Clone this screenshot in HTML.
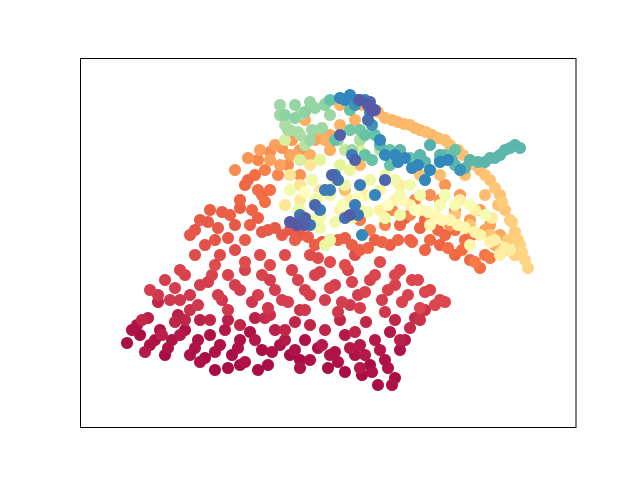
<!DOCTYPE html>
<html><head><meta charset="utf-8"><style>
html,body{margin:0;padding:0;background:#fff;}
svg{display:block;}
</style></head><body>
<svg id="chart" width="640" height="480" xmlns="http://www.w3.org/2000/svg">
<rect x="0" y="0" width="640" height="480" fill="#fff"/>
<g id="points"></g>
<rect x="80.5" y="58.5" width="495.5" height="369" fill="none" stroke="#000" stroke-width="1"/>
</svg>
<script>
// data: x (feature 1), y (feature 2), c (colour value 0..1)
const xs = [127,137,140,150,160,165,172,185,195,205,210,220,232,240,250,262,268,280,290,300,305,318,328,335,345,355,362,370,378,385,395,400,405,390,375,360,345,178,148,158,200,228,255,285,310,340,366,395,415,425,240,215,
150,165,180,190,200,212,222,235,245,258,270,282,292,305,315,325,335,348,358,370,382,395,408,418,430,220,235,260,285,310,330,355,380,400,170,190,300,270,350,385,440,
190,200,210,205,218,230,240,228,250,262,275,290,300,315,330,345,360,375,390,410,425,440,455,470,480,400,420,445,465,485,245,255,262,252,270,
258,270,282,292,265,278,288,300,315,330,300,440,455,470,485,430,450,495,505,500,480,460,445,490,430,415,360,385,410,392,370,
340,355,370,385,398,410,420,432,445,458,470,480,490,500,505,510,515,520,525,528,515,508,498,485,465,450,355,340,320,305,290,330,270,345,360,420,440,
300,312,320,335,350,365,380,395,410,420,435,450,465,480,495,510,400,380,360,340,320,300,285,290,310,430,470,500,
300,310,320,330,315,330,345,370,385,395,410,420,440,455,470,485,340,360,300,285,320,350,400,445,325,
280,285,300,312,280,295,310,325,300,290,305,330,345,350,360,380,395,
330,340,350,360,375,380,400,420,440,455,470,485,495,505,515,520,430,445,390,365,335,
345,355,365,370,372,380,395,405,418,430,448,460,352,360,330,320,310,300,335,375,355,
360,368,372,355,340,290,297,305,350,385,332];
const ys = [137,155,145,135,150,125,140,150,132,122,145,135,125,140,148,130,115,135,125,120,140,132,112,128,108,125,105,115,95,120,102,130,140,148,140,135,145,165,162,178,160,160,162,150,155,160,158,160,162,170,115,110,
190,200,210,185,195,205,180,195,210,185,200,180,210,190,205,180,195,210,185,200,180,195,185,200,190,225,230,225,225,225,218,225,218,210,180,170,170,165,175,168,180,
245,260,270,235,252,265,280,242,255,248,252,250,245,235,240,242,230,240,235,240,230,235,225,220,212,255,252,245,240,225,295,305,285,270,290,
320,328,332,340,310,305,315,330,340,345,305,280,270,260,250,265,255,235,230,245,270,285,295,255,285,280,260,255,265,270,250,
375,380,370,362,358,355,350,345,340,330,320,310,300,285,270,260,248,235,220,212,225,240,275,285,305,320,360,355,350,360,325,330,320,290,315,305,305,
295,300,290,300,280,285,290,280,275,270,265,260,252,245,240,230,295,270,270,270,265,280,275,305,315,255,235,225,
270,260,252,240,280,285,295,300,305,300,295,285,275,275,275,265,315,330,320,340,320,310,285,285,235,
375,355,345,350,365,375,378,375,365,350,335,365,330,350,340,330,320,
380,382,370,350,345,335,330,325,320,315,320,318,322,330,335,332,335,325,315,325,340,
380,375,380,368,355,340,325,322,315,310,320,310,325,295,290,270,255,265,305,285,275,
380,375,370,320,345,258,255,262,265,300,305];
const cs = [0.02,0.03,0.02,0.03,0.03,0.02,0.03,0.03,0.03,0.02,0.03,0.03,0.02,0.03,0.03,0.02,0.02,0.03,0.02,0.02,0.03,0.03,0.02,0.03,0.02,0.03,0.02,0.02,0.02,0.03,0.02,0.03,0.04,0.04,0.04,0.04,0.04,0.05,0.05,0.06,0.05,0.05,0.05,0.06,0.06,0.06,0.06,0.06,0.07,0.08,0.02,0.02,
0.1,0.1,0.11,0.09,0.1,0.11,0.09,0.1,0.11,0.1,0.1,0.1,0.11,0.1,0.11,0.1,0.1,0.11,0.1,0.11,0.1,0.11,0.11,0.12,0.11,0.13,0.13,0.13,0.13,0.13,0.13,0.13,0.13,0.12,0.09,0.08,0.08,0.08,0.09,0.09,0.12,
0.15,0.16,0.17,0.14,0.16,0.17,0.18,0.15,0.17,0.16,0.16,0.16,0.16,0.17,0.17,0.17,0.17,0.17,0.17,0.18,0.18,0.18,0.19,0.19,0.2,0.18,0.18,0.19,0.2,0.21,0.19,0.2,0.19,0.18,0.2,
0.24,0.25,0.26,0.27,0.23,0.24,0.25,0.27,0.28,0.29,0.26,0.26,0.26,0.27,0.28,0.25,0.26,0.29,0.3,0.29,0.27,0.27,0.26,0.28,0.25,0.24,0.22,0.23,0.24,0.24,0.22,
0.31,0.31,0.32,0.32,0.32,0.32,0.32,0.32,0.33,0.33,0.33,0.33,0.34,0.34,0.35,0.36,0.36,0.37,0.38,0.38,0.37,0.36,0.34,0.33,0.33,0.33,0.31,0.31,0.3,0.3,0.28,0.3,0.28,0.33,0.32,0.34,0.33,
0.42,0.43,0.43,0.44,0.45,0.45,0.46,0.46,0.46,0.47,0.47,0.47,0.47,0.46,0.45,0.44,0.44,0.45,0.45,0.45,0.45,0.43,0.42,0.42,0.42,0.47,0.47,0.45,
0.55,0.56,0.56,0.57,0.56,0.57,0.57,0.57,0.56,0.56,0.55,0.55,0.54,0.54,0.53,0.53,0.6,0.62,0.62,0.63,0.6,0.58,0.55,0.54,0.58,
0.72,0.7,0.7,0.72,0.72,0.73,0.73,0.74,0.7,0.7,0.68,0.72,0.66,0.7,0.7,0.68,0.66,
0.8,0.82,0.8,0.78,0.8,0.82,0.82,0.82,0.83,0.82,0.82,0.82,0.82,0.82,0.82,0.82,0.83,0.8,0.8,0.8,0.8,
0.9,0.88,0.9,0.9,0.88,0.9,0.9,0.9,0.9,0.9,0.9,0.88,0.92,0.92,0.92,0.92,0.93,0.93,0.92,0.9,0.92,
0.98,0.98,0.99,0.97,0.97,0.98,0.98,0.97,0.97,0.96,0.96];

// second batch of samples
const xs2 = [132,145,155,168,180,190,198,215,225,238,245,255,272,285,295,310,322,338,350,365,372,388,392,380,360,330,300,275,258,228,200,175,162,142,185,210,240,265,295,325,355,410,420,400,
158,175,185,198,208,218,228,240,252,262,275,288,298,310,320,330,342,352,365,375,388,402,412,425,435,395,345,318,270,245,215,195,180,228,268,305,338,360,420,445,
195,208,215,222,235,245,240,258,268,282,295,308,322,338,352,368,382,398,412,430,448,462,475,490,405,425,438,455,472,248,258,265,
345,362,378,392,404,415,426,438,450,463,475,485,495,502,512,518,522,500,490,470,455,260,275,295,310,325,248,235,280,
305,318,328,342,358,372,388,402,415,428,442,458,475,490,505,320,335,352,368,385,400,290,298,312,445,460,475,492,
285,295,305,315,325,288,298,310,322,338,350,352,365,372,390,410,425,440,452,465,478,490,500,510,455,
340,350,358,370,375,368,385,398,412,425,440,338,325,315,305,298,345,358,362];
const ys2 = [150,128,140,132,145,125,140,128,150,132,118,140,128,140,130,120,135,118,132,125,108,112,95,130,112,125,112,150,110,112,118,158,145,160,160,160,155,162,158,150,148,152,160,140,
185,192,205,175,198,185,205,190,178,205,190,178,200,185,208,192,178,198,188,205,190,178,200,188,175,205,215,222,215,218,215,225,180,170,172,170,168,172,172,178,
250,258,240,268,255,240,272,262,250,245,240,243,238,240,235,232,238,240,238,240,232,230,218,222,262,260,250,250,245,300,290,278,
378,375,368,360,356,352,348,342,335,325,315,305,292,278,258,240,228,228,245,255,265,330,335,325,325,340,322,310,315,
288,282,290,275,282,285,275,280,270,268,260,255,248,238,232,262,258,262,268,262,265,290,270,300,285,280,270,262,
365,362,368,372,376,350,348,340,352,340,350,330,345,320,330,322,318,325,320,312,318,322,325,332,330,
382,385,380,378,370,360,325,318,312,300,318,300,290,275,255,258,262,265,245];
const cs2 = [0.03,0.04,0.03,0.03,0.04,0.03,0.03,0.03,0.04,0.03,0.03,0.04,0.03,0.04,0.03,0.03,0.04,0.03,0.04,0.04,0.03,0.03,0.03,0.04,0.04,0.03,0.03,0.05,0.02,0.02,0.03,0.06,0.05,0.06,0.06,0.06,0.06,0.07,0.06,0.06,0.06,0.07,0.08,0.05,
0.09,0.1,0.11,0.09,0.1,0.1,0.11,0.1,0.09,0.11,0.1,0.1,0.11,0.1,0.11,0.11,0.1,0.11,0.11,0.12,0.11,0.11,0.12,0.12,0.12,0.12,0.13,0.13,0.13,0.13,0.13,0.13,0.09,0.09,0.09,0.09,0.09,0.1,0.12,0.12,
0.15,0.16,0.15,0.17,0.16,0.16,0.17,0.17,0.16,0.16,0.17,0.17,0.17,0.17,0.17,0.18,0.18,0.18,0.18,0.19,0.2,0.2,0.22,0.22,0.17,0.18,0.19,0.2,0.2,0.19,0.2,0.2,
0.31,0.31,0.32,0.32,0.32,0.32,0.33,0.33,0.33,0.33,0.34,0.34,0.35,0.36,0.37,0.37,0.38,0.36,0.35,0.34,0.34,0.28,0.28,0.29,0.3,0.3,0.26,0.25,0.28,
0.5,0.52,0.5,0.52,0.5,0.5,0.5,0.48,0.5,0.48,0.48,0.47,0.46,0.45,0.44,0.55,0.56,0.55,0.55,0.55,0.55,0.55,0.57,0.56,0.45,0.45,0.45,0.44,
0.74,0.74,0.74,0.73,0.72,0.7,0.7,0.72,0.72,0.72,0.78,0.72,0.8,0.8,0.8,0.8,0.82,0.82,0.82,0.82,0.82,0.82,0.82,0.82,0.8,
0.9,0.9,0.92,0.96,0.97,0.95,0.9,0.9,0.9,0.9,0.9,0.94,0.92,0.96,0.97,0.96,0.94,0.93,0.9];

const X0 = 80, X1 = 576, Y0 = 58, Y1 = 427;
const xDom = [80, 576], yDom = [53, 422];
function xScale(v){ return X0 + (v - xDom[0]) / (xDom[1] - xDom[0]) * (X1 - X0); }
function yScale(v){ return Y1 - (v - yDom[0]) / (yDom[1] - yDom[0]) * (Y1 - Y0); }
const stops = ['#9e0142','#d53e4f','#f46d43','#fdae61','#fee08b','#ffffbf','#e6f598','#abdda4','#66c2a5','#3288bd','#5e4fa2'];
function hex(h){ return [parseInt(h.substr(1,2),16),parseInt(h.substr(3,2),16),parseInt(h.substr(5,2),16)]; }
function spectral(t){
  t = Math.max(0, Math.min(1, t));
  const p = t * 10, i = Math.min(9, Math.floor(p)), f = p - i;
  const a = hex(stops[i]), b = hex(stops[i+1]);
  return 'rgb(' + a.map((v,k)=>Math.round(v + (b[k]-v)*f)).join(',') + ')';
}
const pts = [];
for (let i = 0; i < Math.min(xs.length, ys.length, cs.length); i++) pts.push([xs[i], ys[i], cs[i], i]);
for (let i = 0; i < Math.min(xs2.length, ys2.length, cs2.length); i++) pts.push([xs2[i], ys2[i], cs2[i], i + 1000]);
pts.sort((a, b) => a[2] - b[2] || a[3] - b[3]);
const g = document.getElementById('points');
const NS = 'http://www.w3.org/2000/svg';
pts.forEach(p => {
  const c = document.createElementNS(NS, 'circle');
  c.setAttribute('cx', xScale(p[0]).toFixed(1));
  c.setAttribute('cy', yScale(p[1]).toFixed(1));
  c.setAttribute('r', 6);
  c.setAttribute('fill', spectral(p[2]));
  
  
  g.appendChild(c);
});
</script>
</body></html>
